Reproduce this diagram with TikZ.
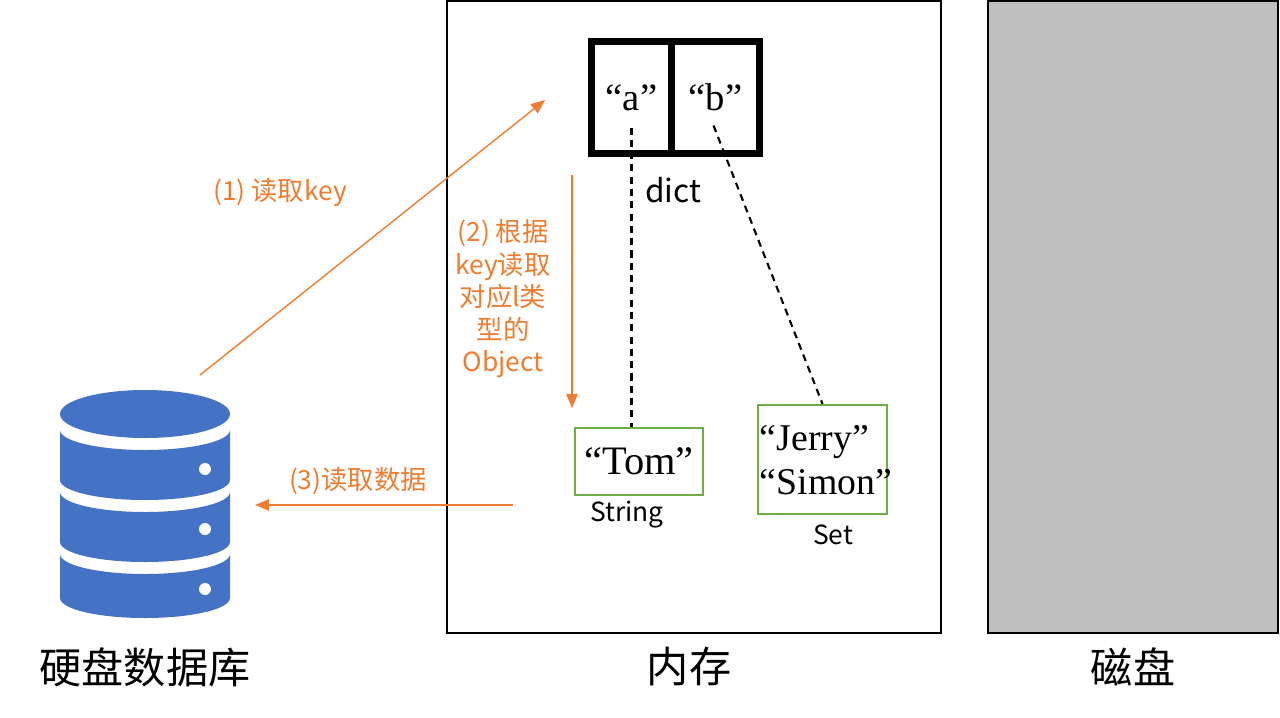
\documentclass[tikz,border=0pt]{standalone}
\usepackage{fontspec}
\newfontfamily\cjk{Noto Sans CJK SC}
\newfontfamily\tnr{Liberation Serif}
\definecolor{dbblue}{RGB}{68, 114, 196}
\definecolor{steporange}{RGB}{237, 125, 49}
\definecolor{objgreen}{RGB}{112, 173, 71}
\definecolor{diskgray}{RGB}{191, 191, 191}
\usetikzlibrary{arrows.meta, positioning, calc}

\begin{document}
\begin{tikzpicture}[x=0.02cm, y=0.02cm,
  stepline/.style={draw=steporange, line width=0.8pt, -{Triangle[length=8pt, width=6.5pt]}},
  steplabel/.style={text=steporange, font=\cjk\fontsize{15}{18.5}\selectfont, align=center},
  keycell/.style={draw, line width=4pt, minimum height=2.24cm, inner sep=0pt},
  objbox/.style={draw=objgreen, line width=1.2pt, inner sep=0pt},
  valtext/.style={font=\tnr\fontsize{22}{25.5}\selectfont},
  typelabel/.style={font=\cjk\fontsize{15}{17}\selectfont},
  title/.style={font=\cjk\fontsize{24}{28}\selectfont},
  link/.style={line width=1.2pt, dash pattern=on 4pt off 3pt}]
  \useasboundingbox (0,0) rectangle (1280,-717);

  % Memory and disk
  \node[draw, line width=1.1pt, minimum width=9.88cm, minimum height=12.64cm, inner sep=0pt] (mem) at (694,-317) {};
  \node[draw, fill=diskgray, line width=1.1pt, minimum width=5.8cm, minimum height=12.64cm, inner sep=0pt] (disk) at (1133,-317) {};

  % Database icon
  \fill[dbblue] (145,-414) ellipse [x radius=85, y radius=24];
  \foreach \t/\b in {430/480, 492/542, 554/598} {
    \fill[dbblue] (60,-\t) arc[start angle=180, end angle=360, x radius=85, y radius=20]
      -- (230,-\b) arc[start angle=0, end angle=-180, x radius=85, y radius=20] -- cycle;
  }
  \foreach \y in {469, 529, 589}
    \fill[white] (205,-\y) circle [radius=6];

  % Titles
  \node[title] (dblabel) at (145,-667) {硬盘数据库};
  \node[title] (memlabel) at (689,-667) {内存};
  \node[title] (disklabel) at (1133,-667) {磁盘};

  % dict
  \node[keycell, minimum width=1.6cm, valtext] (keya) at (631.5,-97.5) {“a”};
  \node[keycell, minimum width=1.76cm, valtext] (keyb) at (715.5,-97.5) {“b”};
  \node[font=\cjk\fontsize{18}{20}\selectfont] (dictlabel) at (673,-190) {dict};

  % Objects
  \node[objbox, minimum width=2.56cm, minimum height=1.34cm, valtext, font=\tnr\fontsize{23}{26}\selectfont] (tom) at (639,-461.5) {“Tom”};
  \node[objbox, minimum width=2.58cm, minimum height=2.18cm] (setbox) at (822.5,-459.5) {};
  \node[valtext, align=left, font=\tnr\fontsize{21.5}{25.5}\selectfont] (setvals) at (826,-460) {“Jerry”\\“Simon”};
  \node[typelabel] (strlabel) at (627,-515) {String};
  \node[typelabel] (setlabel) at (833,-535) {Set};

  \draw[link] ($(keya.center)+(0,-30)$) -- (keya.center |- tom.north);
  \draw[link] ($(keyb.center)+(-2,-28)$) -- (setbox.north);

  % Steps
  \coordinate (readfrom) at (200,-375);
  \coordinate (readto) at (545,-100);
  \draw[stepline] (readfrom) -- (readto);
  \node[steplabel] (readlabel) at (280,-193) {(1) 读取key};

  \coordinate (lookupfrom) at (572,-175);
  \coordinate (lookupto) at (572,-408);
  \draw[stepline] (lookupfrom) -- (lookupto);
  \node[steplabel] (lookuplabel) at (503,-299) {(2) 根据\\key读取\\对应l类\\型的\\Object};

  \coordinate (fetchfrom) at (513,-505);
  \coordinate (fetchto) at (255,-505);
  \draw[stepline] (fetchfrom) -- (fetchto);
  \node[steplabel] (fetchlabel) at (358,-481) {(3)读取数据};
\end{tikzpicture}
\end{document}
